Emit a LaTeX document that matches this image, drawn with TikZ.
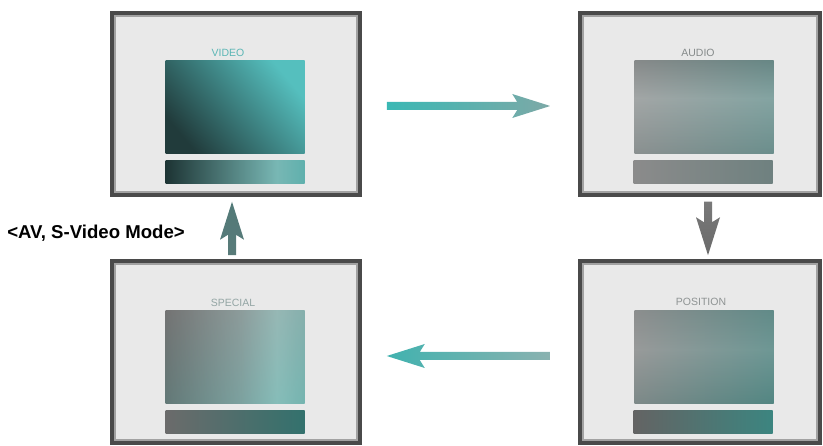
\documentclass[tikz,border=0pt]{standalone}
\usepackage{fontspec}
\setmainfont{Liberation Sans}
\usetikzlibrary{calc}
\definecolor{frameF}{HTML}{E9E9E9}
\definecolor{frameD}{HTML}{4A4A4A}
\definecolor{frameL}{HTML}{A2A2A2}
\definecolor{vidT}{HTML}{55BFBE}
\definecolor{vidM}{HTML}{4FA3A1}
\definecolor{vidB}{HTML}{213B3B}
\definecolor{vbarA}{HTML}{1D3434}
\definecolor{vbarB}{HTML}{78B7B4}
\definecolor{vbarC}{HTML}{5FB0AD}
\definecolor{audT}{HTML}{858A8A}
\definecolor{audM}{HTML}{B3B9B9}
\definecolor{audB}{HTML}{8A9494}
\definecolor{spcA}{HTML}{747474}
\definecolor{spcB}{HTML}{98AEAD}
\definecolor{spcC}{HTML}{A6D6D2}
\definecolor{spcD}{HTML}{8EC9C5}
\definecolor{posT}{HTML}{8E9393}
\definecolor{posM}{HTML}{AAAEAE}
\definecolor{posB}{HTML}{6E8886}
\definecolor{greyL}{HTML}{8A8A8A}
\definecolor{tealD}{HTML}{3C8580}
\definecolor{arrT}{HTML}{3AB8B4}
\definecolor{arrG}{HTML}{7DA9A7}
\definecolor{arrD}{HTML}{6A6A6A}
\definecolor{arrU}{HTML}{527A78}
\pgfdeclarehorizontalshading{videobar}{100bp}{color(0bp)=(vbarA); color(25bp)=(vbarA);
  color(65bp)=(vbarB); color(75bp)=(vbarC); color(100bp)=(vbarC)}
\pgfdeclareverticalshading{audioscr}{100bp}{color(0bp)=(audB); color(25bp)=(audB);
  color(55bp)=(audM); color(75bp)=(audT); color(100bp)=(audT)}
\pgfdeclarehorizontalshading{specialscr}{100bp}{color(0bp)=(spcA); color(25bp)=(spcA);
  color(52bp)=(spcB); color(65bp)=(spcC); color(75bp)=(spcD); color(100bp)=(spcD)}
\pgfdeclareverticalshading{positionscr}{100bp}{color(0bp)=(posB); color(25bp)=(posB);
  color(54bp)=(posM); color(75bp)=(posT); color(100bp)=(posT)}
\tikzset{
  panel/.style={draw=frameD, line width=3.5bp, fill=frameF, inner sep=0pt,
                minimum width=248bp, minimum height=182bp,
                path picture={\draw[frameL, line width=1.5bp]
                  ([shift={(3bp,3bp)}]path picture bounding box.south west) rectangle
                  ([shift={(-3bp,-3bp)}]path picture bounding box.north east);}},
  rpanel/.style={panel, minimum width=240bp},
  screen/.style={inner sep=0pt, minimum width=139bp, minimum height=93bp},
  bar/.style={inner sep=0pt, minimum width=139bp, minimum height=23bp},
  tint/.style n args={3}{path picture={\shade[left color=#1, right color=#2, opacity=#3]
                  (path picture bounding box.south west) rectangle (path picture bounding box.north east);}},
  vtint/.style n args={3}{path picture={\shade[top color=#1, bottom color=#2, opacity=#3]
                  (path picture bounding box.south west) rectangle (path picture bounding box.north east);}},
  ttl/.style={font=\fontsize{10.5bp}{12bp}\selectfont, inner sep=0pt},
  modelab/.style={font=\fontsize{18.6bp}{22bp}\selectfont\bfseries, inner sep=0pt},
}
% block arrow: #1 shading, #2 from, #3 to
\newcommand\blockarrow[3]{%
  \coordinate (hb) at ($(#3)!33bp!(#2)$);
  \coordinate (hw) at ($(#3)!38bp!(#2)$);
  \shade[#1] ($(#2)!4bp!90:(#3)$) -- ($(hb)!4bp!90:(#3)$) -- ($(hw)!12bp!90:(#3)$)
    -- (#3) -- ($(hw)!12bp!-90:(#3)$) -- ($(hb)!4bp!-90:(#3)$) -- ($(#2)!4bp!-90:(#3)$) -- cycle;}

\begin{document}
\begin{tikzpicture}[x=1bp, y=-1bp]
\useasboundingbox (0,0) rectangle (823,446);
% panels
\node[panel]  (video)    at (236,104) {};
\node[rpanel] (audio)    at (700,104) {};
\node[rpanel] (position) at (700,352) {};
\node[panel]  (special)  at (236,352) {};
% screens and bars
\node[screen, shade, top color=vidT, middle color=vidM, bottom color=vidB, shading angle=-50] (videoscr) at (235,107.5) {};
\node[bar, shading=videobar] (videobar) at (235,172.5) {};
\node[screen, shading=audioscr, tint={greyL}{tealD}{0.4}] (audioscr) at (704,107.5) {};
\node[bar, shade, left color=black!45!white!90!gray, right color=tealD!25!gray] (audiobar) at (703,172.5) {};
\node[screen, shading=specialscr, vtint={black!55}{tealD}{0.3}] (specialscr) at (235,357) {};
\node[bar, shade, left color=black!58, right color=tealD!85!black] (specialbar) at (235,422) {};
\node[screen, shading=positionscr, tint={greyL}{tealD}{0.55}] (positionscr) at (704,357) {};
\node[bar, shade, left color=black!61, right color=tealD] (positionbar) at (703,422) {};
% titles
\node[ttl, text=vidT!85!gray]      (videot)    at (228,53)  {VIDEO};
\node[ttl, text=audT]              (audiot)    at (698,53)  {AUDIO};
\node[ttl, text=spcB!80!gray]      (specialt)  at (233,303) {SPECIAL};
\node[ttl, text=posT]              (positiont) at (701,302) {POSITION};
\node[modelab] (mode) at (96,233) {<AV, S-Video Mode>};
% arrows
\coordinate (a1) at ($(video.east)+(25,2)$);
\coordinate (a2) at ($(audio.west)+(-28,2)$);
\coordinate (b1) at ($(audio.south)+(8,5)$);
\coordinate (b2) at ($(position.north)+(8,-4)$);
\coordinate (c1) at ($(position.west)+(-28,4)$);
\coordinate (c2) at ($(special.east)+(25,4)$);
\coordinate (d1) at ($(special.north)+(-4,-4)$);
\coordinate (d2) at ($(video.south)+(-4,5)$);
\blockarrow{left color=arrT, right color=arrG}{a1}{a2}
\blockarrow{top color=arrD!90!white, bottom color=arrD}{b1}{b2}
\blockarrow{left color=arrT!90!gray, right color=arrG!90!white}{c1}{c2}
\blockarrow{top color=arrU, bottom color=arrU!85!gray}{d1}{d2}
\end{tikzpicture}
\end{document}
